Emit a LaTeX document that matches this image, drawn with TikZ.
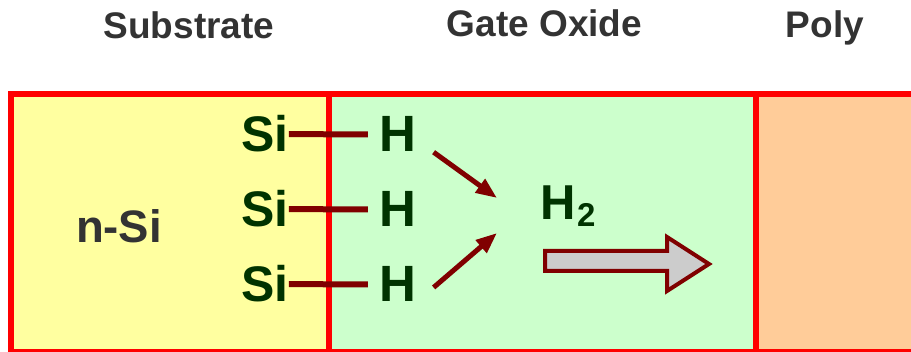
\documentclass[tikz,border=0pt]{standalone}
\usepackage{fontspec}
\setmainfont{Liberation Sans}
\usepackage{xcolor}
\usetikzlibrary{arrows.meta,calc}

\definecolor{wallred}{HTML}{FF0000}
\definecolor{bondred}{HTML}{800000}
\definecolor{atomgreen}{HTML}{003300}
\definecolor{titlegray}{HTML}{333333}
\definecolor{subfill}{HTML}{FFFFA0}
\definecolor{oxfill}{HTML}{CCFFCC}
\definecolor{polyfill}{HTML}{FFCC99}
\definecolor{pipegray}{HTML}{CCCCCC}

\begin{document}
\begin{tikzpicture}[
    x=1pt, y=-1pt,
    layer/.style={rectangle, draw=wallred, line width=6pt, inner sep=0pt, outer sep=0pt,
        anchor=north west, minimum height=258pt},
    title/.style={anchor=base, inner sep=0pt, text=titlegray, font=\fontsize{37}{37}\selectfont\bfseries},
    atom/.style={anchor=base, inner sep=0pt, text=atomgreen, font=\fontsize{50}{50}\selectfont\bfseries},
    bond/.style={draw=bondred, line width=6pt},
    flow/.style={draw=bondred, line width=5pt, -{Triangle[length=21pt,width=16pt]}},
    pipe/.style={draw=bondred, fill=pipegray, line width=4pt, miter limit=10}
]
\useasboundingbox (0,0) rectangle (911,352);
\clip (0,0) rectangle (911,352);

% layers
\node[layer, fill=subfill, minimum width=317.5pt] (sub) at (11,94.5) {};
\node[layer, fill=oxfill, minimum width=427.5pt] (ox) at (328.5,94.5) {};
\node[layer, fill=polyfill, minimum width=170pt] (poly) at (756,94.5) {};

% titles
\node[title] (subtitle) at (189,39) {Substrate};
\node[title] (oxtitle) at (544.5,37) {Gate Oxide};
\node[title] (polytitle) at (825,38) {Poly};
\node[title, font=\fontsize{45.5}{45.5}\selectfont\bfseries] (nsi) at (119,243) {n-Si};

% Si-H bonds
\foreach \i/\yb in {1/152, 2/227, 3/302} {
    \node[atom] (si\i) at (265,\yb) {Si};
    \node[atom, font=\fontsize{51}{51}\selectfont\bfseries] (h\i) at (398,\yb) {H};
    \draw[bond, shorten >=11.5pt] (si\i.east) -- (h\i.west);
}

% hydrogen release
\node[atom, anchor=base west, font=\fontsize{49}{49}\selectfont\bfseries] (h2) at (540,220)
    {H\kern1.5pt\raisebox{-7pt}{\fontsize{33}{33}\selectfont 2}};
\coordinate (meet1) at (497,198);
\coordinate (meet2) at (497,233);
\draw[flow] ($(h1.south east)+(17,0)$) -- (meet1);
\draw[flow] ($(h3.east)+(17,3)$) -- (meet2);

% diffusion into poly
\draw[pipe] (545,251) -- (667,251) -- (667,237) -- (709,264) -- (667,291)
    -- (667,271) -- (545,271) -- cycle;
\end{tikzpicture}
\end{document}
